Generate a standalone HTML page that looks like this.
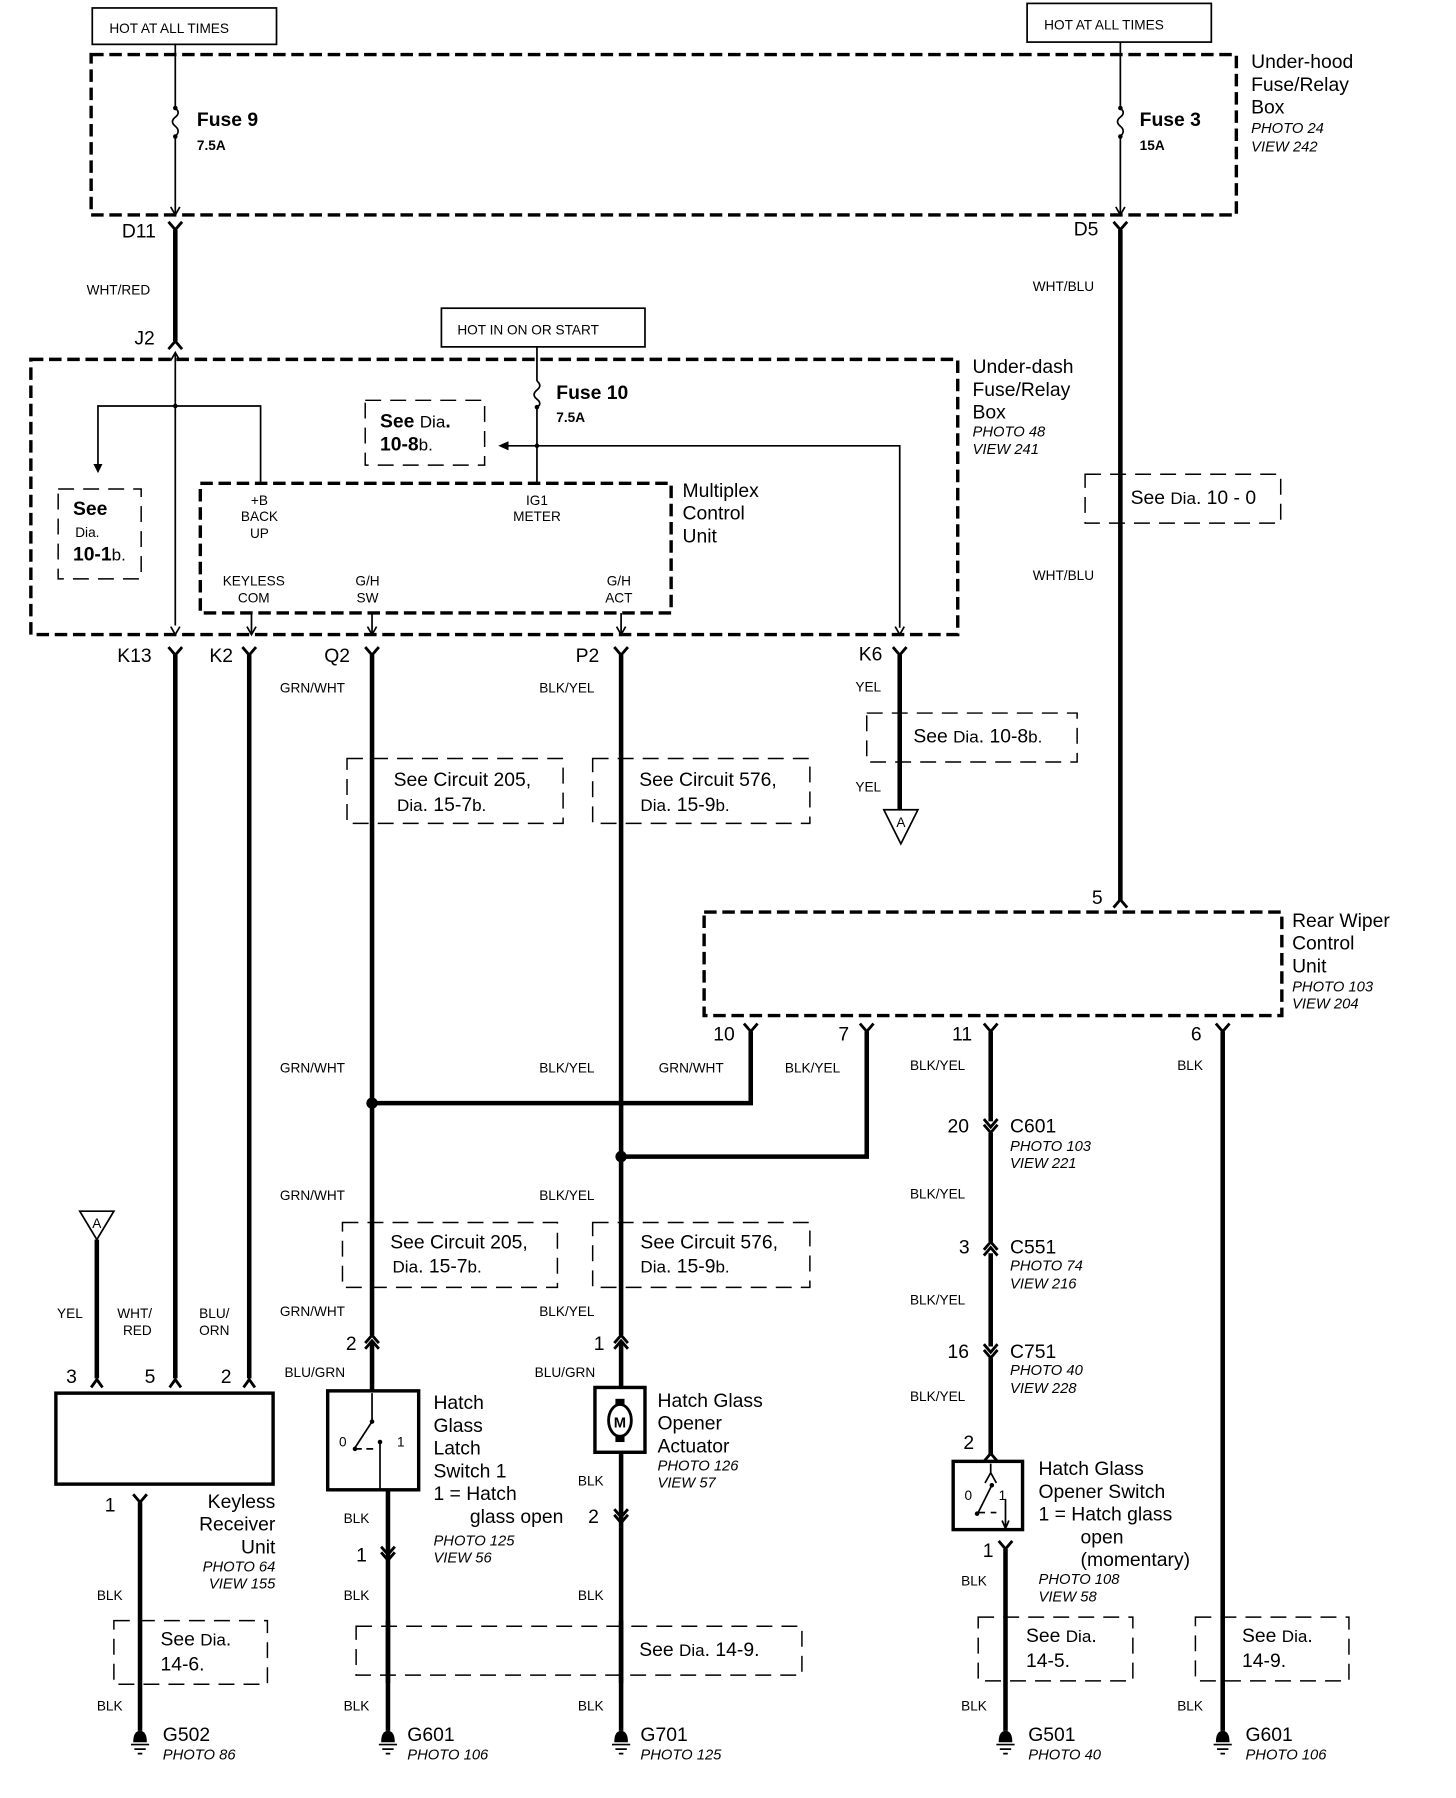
<!DOCTYPE html>
<html><head><meta charset="utf-8"><style>
html,body{margin:0;padding:0;background:#fff;}
svg{display:block;}
text{font-family:"Liberation Sans",sans-serif;fill:#000;}
.s{font-size:12px;}
.m{font-size:17px;}
.b{font-size:17px;font-weight:bold;}
.i{font-size:13px;font-style:italic;}
.w{stroke:#000;stroke-width:4;fill:none;}
.t{stroke:#000;stroke-width:1.5;fill:none;}
.d{stroke:#000;stroke-width:3;fill:none;stroke-dasharray:11 5;}
.dl{stroke:#000;stroke-width:1.3;fill:none;stroke-dasharray:14 8;}
.c{stroke:#000;stroke-width:2.5;fill:none;}
</style></head><body>
<svg width="1456" height="1798" viewBox="0 0 1280 1581" xmlns="http://www.w3.org/2000/svg">
<rect x="81" y="7" width="162" height="32" class="t" stroke-width="2"/>
<text x="96" y="29" class="s" font-size="13">HOT AT ALL TIMES</text>
<rect x="903" y="3" width="162" height="34" class="t" stroke-width="2"/>
<text x="918" y="26" class="s" font-size="13">HOT AT ALL TIMES</text>
<rect x="388" y="271" width="179" height="34" class="t" stroke-width="2"/>
<text x="402" y="294" class="s" font-size="13">HOT IN ON OR START</text>

<rect x="80" y="48" width="1007" height="141" class="d"/>
<text x="1100" y="60" class="m">Under-hood</text>
<text x="1100" y="80" class="m">Fuse/Relay</text>
<text x="1100" y="100" class="m">Box</text>
<text x="1100" y="117" class="i">PHOTO 24</text>
<text x="1100" y="133" class="i">VIEW 242</text>

<path d="M154 39 V95 M154 120 V189" class="t"/>
<path d="M154 95 q5 4 0 8 q-5 4 0 8 q5 4 0 9" class="t"/>
<circle cx="154" cy="95" r="2"/><circle cx="154" cy="120" r="2"/>
<path d="M150 182 L154 189 L158 182" class="t"/>
<text x="173" y="111" class="b">Fuse 9</text>
<text x="173" y="132" class="s" font-weight="bold">7.5A</text>
<path d="M985 37 V95 M985 120 V189" class="t"/>
<path d="M985 95 q5 4 0 8 q-5 4 0 8 q5 4 0 9" class="t"/>
<circle cx="985" cy="95" r="2"/><circle cx="985" cy="120" r="2"/>
<path d="M981 182 L985 189 L989 182" class="t"/>
<text x="1002" y="111" class="b">Fuse 3</text>
<text x="1002" y="132" class="s" font-weight="bold">15A</text>

<path d="M148 195 L154 202 L160 195" class="c"/>
<text x="107" y="209" class="m">D11</text>
<path d="M154 202 V300" class="w"/>
<text x="76" y="259" class="s">WHT/RED</text>
<path d="M148 307 L154 300 L160 307" class="c"/>
<text x="118" y="303" class="m">J2</text>
<path d="M979 195 L985 202 L991 195" class="c"/>
<text x="944" y="207" class="m">D5</text>
<path d="M985 202 V792" class="w"/>
<text x="908" y="256" class="s">WHT/BLU</text>
<text x="908" y="510" class="s">WHT/BLU</text>
<rect x="954" y="417" width="172" height="43" class="dl"/>
<rect x="990" y="425" width="130" height="22" fill="#fff"/>
<text x="994" y="443" class="m">See <tspan font-size="15">Dia</tspan>. 10 - 0</text>

<rect x="27" y="316" width="815" height="242" class="d"/>
<text x="855" y="328" class="m">Under-dash</text>
<text x="855" y="348" class="m">Fuse/Relay</text>
<text x="855" y="368" class="m">Box</text>
<text x="855" y="384" class="i">PHOTO 48</text>
<text x="855" y="399" class="i">VIEW 241</text>

<path d="M154 310 V550" class="t"/>
<path d="M150 317 L154 310 L158 317 M150 551 L154 558 L158 551" class="t"/>
<circle cx="154" cy="357" r="2"/>
<path d="M229 425 V357 H86 V412" class="t"/>
<path d="M82 408 L86 416 L90 408Z"/>
<rect x="51" y="430" width="73" height="79" class="dl"/>
<text x="64" y="453" class="b">See</text>
<text x="66" y="472" class="s" font-size="15">Dia.</text>
<text x="64" y="493" class="b">10-1<tspan font-weight="normal" font-size="15">b.</tspan></text>

<path d="M472 305 V335 M472 358 V425" class="t"/>
<path d="M472 335 q5 4 0 8 q-5 4 0 8 q5 4 0 7" class="t"/>
<circle cx="472" cy="358" r="2"/>
<text x="489" y="351" class="b">Fuse 10</text>
<text x="489" y="371" class="s" font-weight="bold">7.5A</text>
<rect x="321" y="352" width="105" height="57" class="dl"/>
<text x="334" y="376" class="b">See <tspan font-weight="normal" font-size="15">Dia</tspan>.</text>
<text x="334" y="396" class="b">10-8<tspan font-weight="normal" font-size="15">b.</tspan></text>
<path d="M446 392 H791 V552" class="t"/>
<path d="M438 392 L447 388 L447 396Z"/>
<circle cx="472" cy="392" r="2"/>
<path d="M787 551 L791 558 L795 551" class="t"/>

<rect x="176" y="425" width="414" height="114" class="d" stroke-width="2.5"/>
<text x="600" y="437" class="m">Multiplex</text>
<text x="600" y="457" class="m">Control</text>
<text x="600" y="477" class="m">Unit</text>
<g class="s" text-anchor="middle">
<text x="228" y="444">+B</text><text x="228" y="458">BACK</text><text x="228" y="473">UP</text>
<text x="472" y="444">IG1</text><text x="472" y="458">METER</text>
<text x="223" y="515">KEYLESS</text><text x="223" y="530">COM</text>
<text x="323" y="515">G/H</text><text x="323" y="530">SW</text>
<text x="544" y="515">G/H</text><text x="544" y="530">ACT</text>
</g>
<path d="M221 539 V558 M327 539 V558 M546 539 V558" class="t"/>
<path d="M217 551 L221 558 L225 551 M323 551 L327 558 L331 551 M542 551 L546 558 L550 551" class="t"/>

<g class="c">
<path d="M148 569 L154 576 L160 569"/><path d="M213 569 L219 576 L225 569"/>
<path d="M321 569 L327 576 L333 569"/><path d="M540 569 L546 576 L552 569"/>
<path d="M785 569 L791 576 L797 569"/>
</g>
<text x="103" y="582" class="m">K13</text>
<text x="184" y="582" class="m">K2</text>
<text x="285" y="582" class="m">Q2</text>
<text x="506" y="582" class="m">P2</text>
<text x="755" y="581" class="m">K6</text>

<path d="M154 576 V1212 M219 576 V1212 M327 576 V1174 M546 576 V1174 M791 576 V712" class="w"/>
<text x="246" y="609" class="s">GRN/WHT</text>
<text x="474" y="609" class="s">BLK/YEL</text>
<text x="752" y="608" class="s">YEL</text>
<text x="752" y="696" class="s">YEL</text>
<rect x="762" y="627" width="185" height="43" class="dl"/>
<rect x="797" y="635" width="140" height="22" fill="#fff"/>
<text x="803" y="653" class="m">See <tspan font-size="15">Dia</tspan>. 10-8<tspan font-size="15">b.</tspan></text>
<path d="M777 712 H807 L792 742Z" class="t"/>
<text x="792" y="727" class="s" font-size="10" text-anchor="middle">A</text>

<rect x="305" y="667" width="190" height="57" class="dl"/>
<rect x="340" y="672" width="150" height="46" fill="#fff"/>
<text x="346" y="691" class="m">See Circuit 205,</text>
<text x="349" y="713" class="m"><tspan font-size="15">Dia</tspan>. 15-7<tspan font-size="15">b.</tspan></text>
<rect x="521" y="667" width="191" height="57" class="dl"/>
<rect x="556" y="672" width="150" height="46" fill="#fff"/>
<text x="562" y="691" class="m">See Circuit 576,</text>
<text x="563" y="713" class="m"><tspan font-size="15">Dia</tspan>. 15-9<tspan font-size="15">b.</tspan></text>

<path d="M979 798 L985 791 L991 798" class="c"/>
<text x="960" y="795" class="m">5</text>
<rect x="619" y="802" width="508" height="91" class="d"/>
<text x="1136" y="815" class="m">Rear Wiper</text>
<text x="1136" y="835" class="m">Control</text>
<text x="1136" y="855" class="m">Unit</text>
<text x="1136" y="872" class="i">PHOTO 103</text>
<text x="1136" y="887" class="i">VIEW 204</text>
<g class="c">
<path d="M654 900 L660 907 L666 900"/><path d="M756 900 L762 907 L768 900"/>
<path d="M865 900 L871 907 L877 900"/><path d="M1069 900 L1075 907 L1081 900"/>
</g>
<text x="627" y="915" class="m">10</text>
<text x="737" y="915" class="m">7</text>
<text x="837" y="915" class="m">11</text>
<text x="1047" y="915" class="m">6</text>
<path d="M660 907 V970 H327 M762 907 V1017 H546" class="w"/>
<path d="M871 907 V986 M871 996 V1092 M871 1102 V1184 M871 1194 V1280 M1075 907 V1522" class="w"/>
<circle cx="327" cy="970" r="5"/><circle cx="546" cy="1017" r="5"/>
<text x="246" y="943" class="s">GRN/WHT</text>
<text x="474" y="943" class="s">BLK/YEL</text>
<text x="579" y="943" class="s">GRN/WHT</text>
<text x="690" y="943" class="s">BLK/YEL</text>
<text x="800" y="941" class="s">BLK/YEL</text>
<text x="1035" y="941" class="s">BLK</text>

<path d="M865 984 L871 991 L877 984 M865 989 L871 996 L877 989" class="c"/>
<text x="833" y="996" class="m">20</text>
<text x="888" y="996" class="m">C601</text>
<text x="888" y="1012" class="i">PHOTO 103</text>
<text x="888" y="1027" class="i">VIEW 221</text>
<text x="800" y="1054" class="s">BLK/YEL</text>
<path d="M865 1099 L871 1092 L877 1099 M865 1104 L871 1097 L877 1104" class="c"/>
<text x="843" y="1102" class="m">3</text>
<text x="888" y="1102" class="m">C551</text>
<text x="888" y="1117" class="i">PHOTO 74</text>
<text x="888" y="1133" class="i">VIEW 216</text>
<text x="800" y="1147" class="s">BLK/YEL</text>
<path d="M865 1182 L871 1189 L877 1182 M865 1187 L871 1194 L877 1187" class="c"/>
<text x="833" y="1194" class="m">16</text>
<text x="888" y="1194" class="m">C751</text>
<text x="888" y="1209" class="i">PHOTO 40</text>
<text x="888" y="1225" class="i">VIEW 228</text>
<text x="800" y="1232" class="s">BLK/YEL</text>
<path d="M865 1285 L871 1278 L877 1285" class="c"/>
<text x="847" y="1274" class="m">2</text>
<rect x="838" y="1285" width="61" height="60" stroke="#000" stroke-width="3" fill="none"/>
<path d="M871 1287 V1295 M866 1304 L871 1295 L876 1304 M860 1330 L872 1306 M860 1330 H866 M871 1330 H876 M884 1318 V1345 M881 1337 L884 1344 L887 1337" class="t"/>
<circle cx="872" cy="1306" r="2"/><circle cx="859" cy="1331" r="2"/>
<text x="848" y="1319" class="s">0</text><text x="878" y="1319" class="s">1</text>
<path d="M878 1355 L884 1362 L890 1355" class="c"/>
<path d="M884 1362 V1522" class="w"/>
<text x="864" y="1369" class="m">1</text>
<text x="913" y="1297" class="m">Hatch Glass</text>
<text x="913" y="1317" class="m">Opener Switch</text>
<text x="913" y="1337" class="m">1 = Hatch glass</text>
<text x="950" y="1357" class="m">open</text>
<text x="950" y="1377" class="m">(momentary)</text>
<text x="913" y="1393" class="i">PHOTO 108</text>
<text x="913" y="1408" class="i">VIEW 58</text>
<text x="845" y="1394" class="s">BLK</text>
<rect x="860" y="1422" width="136" height="56" class="dl"/>
<rect x="895" y="1427" width="95" height="46" fill="#fff"/>
<text x="902" y="1444" class="m">See <tspan font-size="15">Dia</tspan>.</text>
<text x="902" y="1466" class="m">14-5.</text>
<text x="845" y="1504" class="s">BLK</text>
<rect x="1051" y="1422" width="135" height="56" class="dl"/>
<rect x="1086" y="1427" width="95" height="46" fill="#fff"/>
<text x="1092" y="1444" class="m">See <tspan font-size="15">Dia</tspan>.</text>
<text x="1092" y="1466" class="m">14-9.</text>
<text x="1035" y="1504" class="s">BLK</text>

<path d="M70 1065 H100 L85 1090Z" class="t"/>
<text x="85" y="1080" class="s" font-size="10" text-anchor="middle">A</text>
<path d="M85 1090 V1212" class="w"/>
<text x="50" y="1159" class="s">YEL</text>
<text x="103" y="1159" class="s">WHT/</text><text x="108" y="1174" class="s">RED</text>
<text x="175" y="1159" class="s">BLU/</text><text x="175" y="1174" class="s">ORN</text>
<path d="M80 1220 L85 1213 L90 1220 M149 1220 L154 1213 L159 1220 M214 1220 L219 1213 L224 1220" class="c"/>
<text x="58" y="1216" class="m">3</text>
<text x="127" y="1216" class="m">5</text>
<text x="194" y="1216" class="m">2</text>
<rect x="49" y="1225" width="191" height="80" stroke="#000" stroke-width="3" fill="none"/>
<path d="M117 1314 L123 1321 L129 1314" class="c"/>
<path d="M123 1321 V1522" class="w"/>
<text x="92" y="1329" class="m">1</text>
<g text-anchor="end">
<text x="242" y="1326" class="m">Keyless</text>
<text x="242" y="1346" class="m">Receiver</text>
<text x="242" y="1366" class="m">Unit</text>
<text x="242" y="1382" class="i">PHOTO 64</text>
<text x="242" y="1397" class="i">VIEW 155</text>
</g>
<text x="85" y="1407" class="s">BLK</text>
<rect x="100" y="1425" width="135" height="56" class="dl"/>
<rect x="135" y="1430" width="95" height="46" fill="#fff"/>
<text x="141" y="1447" class="m">See <tspan font-size="15">Dia</tspan>.</text>
<text x="141" y="1469" class="m">14-6.</text>
<text x="85" y="1504" class="s">BLK</text>

<text x="246" y="1055" class="s">GRN/WHT</text>
<rect x="301" y="1075" width="189" height="57" class="dl"/>
<rect x="336" y="1080" width="150" height="46" fill="#fff"/>
<text x="343" y="1098" class="m">See Circuit 205,</text>
<text x="345" y="1119" class="m"><tspan font-size="15">Dia</tspan>. 15-7<tspan font-size="15">b.</tspan></text>
<text x="246" y="1157" class="s">GRN/WHT</text>
<path d="M321 1181 L327 1174 L333 1181 M321 1186 L327 1179 L333 1186" class="c"/>
<path d="M327 1179 V1223" class="w"/>
<text x="304" y="1187" class="m">2</text>
<text x="250" y="1211" class="s">BLU/GRN</text>
<rect x="288" y="1223" width="80" height="87" stroke="#000" stroke-width="3" fill="none"/>
<path d="M327 1225 V1250 M312 1273 L327 1250 M312 1274 H318 M322 1274 H328 M334 1267 V1310" class="t"/>
<circle cx="327" cy="1250" r="2"/><circle cx="312" cy="1274" r="2"/><circle cx="334" cy="1268" r="2"/>
<text x="298" y="1272" class="s">0</text><text x="349" y="1272" class="s">1</text>
<path d="M341 1310 V1522" class="w"/>
<path d="M335 1360 L341 1367 L347 1360 M335 1365 L341 1372 L347 1365" class="c"/>
<text x="313" y="1373" class="m">1</text>
<text x="381" y="1239" class="m">Hatch</text>
<text x="381" y="1259" class="m">Glass</text>
<text x="381" y="1279" class="m">Latch</text>
<text x="381" y="1299" class="m">Switch 1</text>
<text x="381" y="1319" class="m">1 = Hatch</text>
<text x="413" y="1339" class="m">glass open</text>
<text x="381" y="1359" class="i">PHOTO 125</text>
<text x="381" y="1374" class="i">VIEW 56</text>
<text x="302" y="1339" class="s">BLK</text>
<text x="302" y="1407" class="s">BLK</text>
<text x="302" y="1504" class="s">BLK</text>

<text x="474" y="1055" class="s">BLK/YEL</text>
<rect x="521" y="1075" width="191" height="57" class="dl"/>
<rect x="556" y="1080" width="150" height="46" fill="#fff"/>
<text x="563" y="1098" class="m">See Circuit 576,</text>
<text x="563" y="1119" class="m"><tspan font-size="15">Dia</tspan>. 15-9<tspan font-size="15">b.</tspan></text>
<text x="474" y="1157" class="s">BLK/YEL</text>
<path d="M540 1181 L546 1174 L552 1181 M540 1186 L546 1179 L552 1186" class="c"/>
<path d="M546 1179 V1220" class="w"/>
<text x="522" y="1187" class="m">1</text>
<text x="470" y="1211" class="s">BLU/GRN</text>
<rect x="523" y="1220" width="44" height="57" stroke="#000" stroke-width="3" fill="none"/>
<ellipse cx="545" cy="1249" rx="10" ry="14" stroke="#000" stroke-width="2.5" fill="#fff"/>
<rect x="541" y="1230" width="8" height="5"/><rect x="541" y="1263" width="8" height="5"/>
<text x="545" y="1255" font-size="13" font-weight="bold" text-anchor="middle">M</text>
<path d="M546 1277 V1522" class="w"/>
<path d="M540 1327 L546 1334 L552 1327 M540 1332 L546 1339 L552 1332" class="c"/>
<text x="517" y="1339" class="m">2</text>
<text x="578" y="1237" class="m">Hatch Glass</text>
<text x="578" y="1257" class="m">Opener</text>
<text x="578" y="1277" class="m">Actuator</text>
<text x="578" y="1293" class="i">PHOTO 126</text>
<text x="578" y="1308" class="i">VIEW 57</text>
<text x="508" y="1306" class="s">BLK</text>
<text x="508" y="1407" class="s">BLK</text>
<text x="508" y="1504" class="s">BLK</text>
<rect x="313" y="1430" width="392" height="43" class="dl"/>
<rect x="556" y="1437" width="140" height="28" fill="#fff"/>
<text x="562" y="1456" class="m">See <tspan font-size="15">Dia</tspan>. 14-9.</text>
<path d="M341 1425 V1480 M546 1425 V1480" class="w"/>

<g>
<path d="M117 1532 Q117 1522 123 1522 Q129 1522 129 1532Z"/><path d="M115 1534 H131 M118 1538 H128 M121 1542 H125" class="t"/>
<path d="M335 1532 Q335 1522 341 1522 Q347 1522 347 1532Z"/><path d="M333 1534 H349 M336 1538 H346 M339 1542 H343" class="t"/>
<path d="M540 1532 Q540 1522 546 1522 Q552 1522 552 1532Z"/><path d="M538 1534 H554 M541 1538 H551 M544 1542 H548" class="t"/>
<path d="M878 1532 Q878 1522 884 1522 Q890 1522 890 1532Z"/><path d="M876 1534 H892 M879 1538 H889 M882 1542 H886" class="t"/>
<path d="M1069 1532 Q1069 1522 1075 1522 Q1081 1522 1081 1532Z"/><path d="M1067 1534 H1083 M1070 1538 H1080 M1073 1542 H1077" class="t"/>
</g>
<text x="143" y="1531" class="m">G502</text><text x="143" y="1547" class="i">PHOTO 86</text>
<text x="358" y="1531" class="m">G601</text><text x="358" y="1547" class="i">PHOTO 106</text>
<text x="563" y="1531" class="m">G701</text><text x="563" y="1547" class="i">PHOTO 125</text>
<text x="904" y="1531" class="m">G501</text><text x="904" y="1547" class="i">PHOTO 40</text>
<text x="1095" y="1531" class="m">G601</text><text x="1095" y="1547" class="i">PHOTO 106</text>
</svg>
</body></html>
